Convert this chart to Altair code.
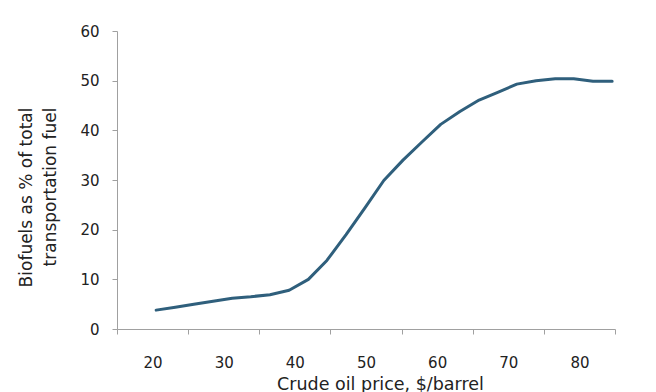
import altair as alt
import pandas as pd

# Crude oil price ($/barrel) and biofuel share (% of transportation fuel)
price = [20.5, 23.2, 25.8, 28.5, 31.2, 33.8, 36.5, 39.2, 41.9, 44.5, 47.2, 49.9,
         52.5, 55.2, 57.9, 60.5, 63.2, 65.9, 68.6, 71.2, 73.9, 76.6, 79.2, 81.9, 84.6]
share = [3.8, 4.4, 5.0, 5.6, 6.2, 6.5, 6.9, 7.8, 10.0, 13.8, 19.0, 24.5,
         29.9, 34.0, 37.7, 41.2, 43.8, 46.1, 47.7, 49.3, 50.0, 50.4, 50.4, 49.9, 49.9]

x_tick_marks = [15, 25, 35, 45, 55, 65, 75, 85]
x_tick_labels = [20, 30, 40, 50, 60, 70, 80]
y_ticks = [0, 10, 20, 30, 40, 50, 60]

x_title = "Crude oil price, $/barrel"
y_title = ["Biofuels as % of total", "transportation fuel"]

df = pd.DataFrame({"price": price, "share": share})

FONT = "DejaVu Sans"
AXIS_GRAY = "#a0a0a0"
TEXT = "#222222"

x_axis = alt.Axis(
    values=sorted(x_tick_marks + x_tick_labels),
    labelExpr="datum.value % 10 == 0 ? datum.label : ''",
    tickOpacity={"condition": {"test": "datum.value % 10 == 5", "value": 1}, "value": 0},
    tickSize=5,
    tickColor=AXIS_GRAY,
    domainColor=AXIS_GRAY,
    grid=False,
    labelFont=FONT,
    labelFontSize=15,
    labelColor=TEXT,
    labelPadding=21,
    labelOverlap=False,
    labelFlush=False,
    title=x_title,
    titleFont=FONT,
    titleFontSize=17.5,
    titleFontWeight="normal",
    titleColor=TEXT,
    titleBaseline="top",
    titleAlign="center",
    titleX=263,
    titleY=46,
)

y_axis = alt.Axis(
    values=y_ticks,
    tickSize=5,
    tickColor=AXIS_GRAY,
    domainColor=AXIS_GRAY,
    grid=False,
    labelFont=FONT,
    labelFontSize=15,
    labelColor=TEXT,
    labelPadding=13,
    title=y_title,
    titleFont=FONT,
    titleFontSize=17,
    titleFontWeight="normal",
    titleColor=TEXT,
    titleAngle=270,
    titleAlign="right",
    titleBaseline="top",
    titleLineHeight=24,
    titleX=-99,
    titleY=76,
)

chart = alt.Chart(df).mark_line(
    color="#2f5f7c", strokeWidth=3, strokeCap="round", strokeJoin="round"
).encode(
    x=alt.X("price:Q", scale=alt.Scale(domain=[15, 85], nice=False, zero=False), axis=x_axis),
    y=alt.Y("share:Q", scale=alt.Scale(domain=[0, 60], nice=False), axis=y_axis),
).properties(
    width=498,
    height=298,
    autosize=alt.AutoSizeParams(type="none"),
    padding={"left": 117, "top": 31, "right": 41, "bottom": 63},
    background="white",
).configure_view(strokeWidth=0)

chart.save("out.html", embed_options={"renderer": "svg", "actions": False})
